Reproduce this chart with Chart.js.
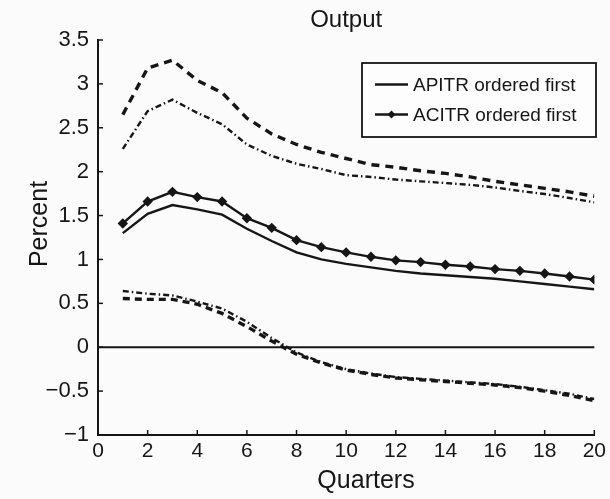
<!DOCTYPE html>
<html><head><meta charset="utf-8">
<script src="https://cdn.jsdelivr.net/npm/chart.js@4"></script>
<style>html,body{margin:0;padding:0;background:#fbfbfb;}</style>
</head><body>
<canvas id="c" width="610" height="499"></canvas>
<script>
const quarters = [1,2,3,4,5,6,7,8,9,10,11,12,13,14,15,16,17,18,19,20];
const apitr = [1.30,1.52,1.62,1.57,1.51,1.35,1.21,1.08,1.00,0.95,0.91,0.87,0.84,0.82,0.80,0.78,0.75,0.72,0.69,0.66];
const acitr = [1.41,1.66,1.77,1.71,1.66,1.47,1.36,1.22,1.14,1.08,1.03,0.99,0.97,0.94,0.92,0.89,0.87,0.84,0.805,0.77];
const upperDashed = [2.65,3.18,3.27,3.04,2.90,2.61,2.43,2.31,2.22,2.15,2.08,2.05,2.01,1.98,1.94,1.89,1.85,1.81,1.77,1.72];
const upperDashDot = [2.26,2.69,2.82,2.67,2.54,2.31,2.18,2.09,2.03,1.96,1.94,1.91,1.89,1.87,1.85,1.82,1.78,1.745,1.70,1.65];
const lowerDashed = [0.555,0.545,0.545,0.49,0.385,0.235,0.07,-0.08,-0.18,-0.26,-0.31,-0.35,-0.37,-0.39,-0.41,-0.43,-0.46,-0.50,-0.55,-0.61];
const lowerDashDot = [0.64,0.61,0.59,0.52,0.44,0.29,0.105,-0.06,-0.17,-0.25,-0.30,-0.34,-0.36,-0.38,-0.40,-0.42,-0.45,-0.49,-0.53,-0.59];
const xTickValues = [0,2,4,6,8,10,12,14,16,18,20];
const yTickValues = [-1,-0.5,0,0.5,1,1.5,2,2.5,3,3.5];
const legendLabels = ['APITR ordered first','ACITR ordered first'];
const chartTitle = 'Output';
const xTitle = 'Quarters';
const yTitle = 'Percent';

const INK = '#161616';
const FONT = '"Liberation Sans", Arial, Helvetica, sans-serif';
const pts = arr => quarters.map((q,i)=>({x:q,y:arr[i]}));

const frame = {
  id:'frame',
  beforeDatasetsDraw(chart){
    const {ctx, chartArea:a, scales:{x,y}} = chart;
    ctx.save();
    ctx.strokeStyle = INK; ctx.lineWidth = 2;
    const y0 = y.getPixelForValue(0);
    ctx.beginPath(); ctx.moveTo(a.left, y0); ctx.lineTo(a.right, y0); ctx.stroke();
    ctx.lineWidth = 1.5;
    y.ticks.forEach(t=>{const p=y.getPixelForValue(t.value); ctx.beginPath(); ctx.moveTo(a.left,p); ctx.lineTo(a.left+5,p); ctx.stroke();});
    x.ticks.forEach(t=>{const p=x.getPixelForValue(t.value); ctx.beginPath(); ctx.moveTo(p,a.bottom); ctx.lineTo(p,a.bottom-5); ctx.stroke();});
    ctx.restore();
  },
  afterDraw(chart){
    const ctx = chart.ctx;
    ctx.save();
    // axis titles
    ctx.fillStyle = INK; ctx.textAlign='center'; ctx.textBaseline='middle';
    ctx.font = '25px '+FONT;
    ctx.fillText(xTitle, 366, 481);
    ctx.save(); ctx.translate(40,224); ctx.rotate(-Math.PI/2); ctx.fillText(yTitle,0,0); ctx.restore();
    // legend
    ctx.fillStyle = '#fdfdfd';
    ctx.fillRect(362,63,234,74);
    ctx.strokeStyle = INK; ctx.lineWidth = 1.8;
    ctx.strokeRect(362,63,234,74);
    const rows = [84.5,114.5];
    legendLabels.forEach((lab,i)=>{
      const ds = chart.data.datasets.find(d=>d.label===lab);
      const yy = rows[i];
      ctx.strokeStyle = ds.borderColor; ctx.lineWidth = ds.borderWidth; ctx.setLineDash([]);
      ctx.beginPath(); ctx.moveTo(375,yy); ctx.lineTo(408,yy); ctx.stroke();
      if (ds.pointRadius>0){
        ctx.fillStyle = INK;
        ctx.beginPath(); ctx.moveTo(391.5,yy-4); ctx.lineTo(395.5,yy); ctx.lineTo(391.5,yy+4); ctx.lineTo(387.5,yy); ctx.closePath(); ctx.fill();
      }
      ctx.fillStyle = INK; ctx.font = '19px '+FONT; ctx.textBaseline='middle'; ctx.textAlign='left';
      ctx.fillText(lab, 413, yy+1);
    });
    ctx.restore();
  }
};

new Chart(document.getElementById('c'), {
  type:'line',
  data:{datasets:[
    {label:'APITR ordered first', data:pts(apitr), borderColor:INK, borderWidth:2.4, pointRadius:0, tension:0},
    {label:'ACITR ordered first', data:pts(acitr), borderColor:INK, borderWidth:2.4, pointRadius:3.5, pointStyle:'rectRot', pointBackgroundColor:INK, pointBorderColor:INK, tension:0},
    {label:'APITR upper band', data:pts(upperDashed), borderColor:INK, borderWidth:3.4, borderDash:[8,6], pointRadius:0, tension:0},
    {label:'ACITR upper band', data:pts(upperDashDot), borderColor:INK, borderWidth:2.4, borderDash:[6,3,1.5,3], pointRadius:0, tension:0},
    {label:'APITR lower band', data:pts(lowerDashed), borderColor:INK, borderWidth:3.4, borderDash:[7,5], pointRadius:0, tension:0},
    {label:'ACITR lower band', data:pts(lowerDashDot), borderColor:INK, borderWidth:2.4, borderDash:[6,3,1.5,3], pointRadius:0, tension:0}
  ]},
  options:{
    responsive:false, animation:false, devicePixelRatio:1,
    layout:{padding:{left:0,right:13,top:0,bottom:30.8}},
    plugins:{
      legend:{display:false}, tooltip:{enabled:false},
      title:{display:true, fullSize:false, text:chartTitle, color:INK, font:{family:FONT,size:24,weight:'normal'}, padding:{top:6,bottom:5.2}}
    },
    scales:{
      x:{type:'linear', min:0, max:20,
        afterBuildTicks:s=>{s.ticks = xTickValues.map(v=>({value:v}));},
        grid:{display:false, drawTicks:false},
        border:{display:true, color:INK, width:2},
        ticks:{color:INK, font:{family:FONT,size:21}, padding:4, maxRotation:0, autoSkip:false, callback:v=>String(v)}
      },
      y:{type:'linear', min:-1, max:3.5,
        afterBuildTicks:s=>{s.ticks = yTickValues.map(v=>({value:v}));},
        afterFit:s=>{s.width = 98;},
        grid:{display:false, drawTicks:false},
        border:{display:true, color:INK, width:2},
        ticks:{color:INK, font:{family:FONT,size:22}, padding:9, autoSkip:false, callback:v=>String(v).replace('-','\u2212')}
      }
    }
  },
  plugins:[frame]
});
</script>
</body></html>
